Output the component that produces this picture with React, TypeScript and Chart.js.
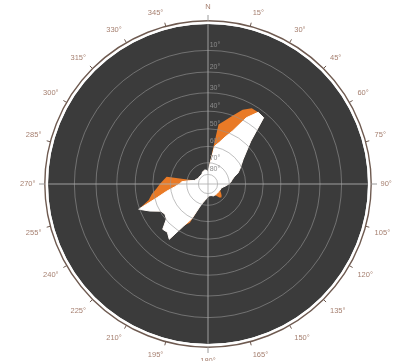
import React, { useEffect, useRef } from 'react';
import { Chart, registerables, RadialLinearScale } from 'chart.js';

// Azimuth categories (degrees, clockwise from north)
const AZIMUTHS = [
  0, 5, 10, 15, 20, 25, 30, 35, 40, 45, 50, 55, 60, 65, 70, 75, 80, 85,
  90, 95, 100, 105, 110, 115, 120, 125, 130, 135, 140, 145, 150, 155, 160, 165, 170, 175,
  180, 185, 190, 195, 200, 205, 210, 215, 220, 225, 230, 235, 240, 245, 250, 255, 260, 265,
  270, 275, 280, 285, 290, 295, 300, 305, 310, 315, 320, 325, 330, 335, 340, 345, 350, 355,
];

// Outer (orange) obstruction elevation per azimuth, degrees
const ORANGE_ELEV = [
  78, 70, 47, 44, 40, 35, 32, 32, 32.5, 47, 53, 57, 59.5, 61.5, 63.5, 66.5, 68, 69,
  70.5, 72.5, 74.5, 76, 76.5, 76.5, 76, 74.5, 73, 72, 73, 76, 77, 77, 77.5, 78, 78, 78,
  77.5, 76, 74, 72, 68, 57, 54, 43, 45.5, 45, 50.5, 51.5, 50.5, 45, 39.5, 46.5, 49, 52,
  54, 56, 57.5, 76.5, 77, 78, 78.5, 78.5, 78.5, 78.5, 78.5, 78.5, 78, 77, 76.5, 76, 76, 76.5,
];

// Inner (white) region elevation per azimuth, degrees
const WHITE_ELEV = [
  78, 72, 59.5, 57, 53, 48, 38, 32, 32.5, 47, 53, 57, 59.5, 61.5, 63.5, 66.5, 68, 69,
  70.5, 72.5, 74.5, 76, 76.5, 76.5, 77, 77, 77, 77, 77, 77, 77, 77, 77.5, 78, 78, 78,
  77.5, 76, 74, 72, 68, 59.5, 54, 43, 45.5, 45, 50.5, 51.5, 50.5, 45, 39.5, 51.5, 57.5, 62.5,
  65.5, 67, 72, 76.5, 77, 78, 78.5, 78.5, 78.5, 78.5, 78.5, 78.5, 78, 77, 76.5, 76, 76, 76.5,
];

// Elevation rings
const RING_ELEVATIONS = [0, 10, 20, 30, 40, 50, 60, 70, 80];

// Sky projection: elevation -> fraction of plot radius
const PROJ_ELEV = [0, 10, 20, 30, 40, 50, 60, 70, 80, 90];
const PROJ_FRAC = [1, 0.835, 0.7, 0.57, 0.455, 0.345, 0.235, 0.133, 0.06, 0];

const FONT = "'Liberation Sans', Arial, sans-serif";
const DISC_COLOR = '#3b3b3b';
const RING_COLOR = '#6e5a50';

function elevToFrac(e: number): number {
  if (e <= PROJ_ELEV[0]) return PROJ_FRAC[0];
  for (let i = 1; i < PROJ_ELEV.length; i++) {
    if (e <= PROJ_ELEV[i]) {
      const t = (e - PROJ_ELEV[i - 1]) / (PROJ_ELEV[i] - PROJ_ELEV[i - 1]);
      return PROJ_FRAC[i - 1] + t * (PROJ_FRAC[i] - PROJ_FRAC[i - 1]);
    }
  }
  return 0;
}

class SkyRadialScale extends RadialLinearScale {
  static id = 'skyRadial';
  getDistanceFromCenterForValue(value: any) {
    if (value === null || value === undefined || isNaN(value)) return NaN;
    return (this as any).drawingArea * elevToFrac(value);
  }
  setCenterPoint() {
    // keep the full drawing area; labels are laid out around it
  }
  drawLabels() {
    const ctx = (this as any).ctx as CanvasRenderingContext2D;
    ctx.save();
    ctx.translate(7, -5);
    // @ts-ignore
    super.drawLabels();
    ctx.restore();
  }
}

Chart.register(...registerables, SkyRadialScale as any);

const skyFrame = {
  id: 'skyFrame',
  beforeDraw(chart: any) {
    const s = chart.scales.r;
    const ctx = chart.ctx as CanvasRenderingContext2D;
    ctx.save();
    ctx.beginPath();
    ctx.arc(s.xCenter, s.yCenter, s.drawingArea, 0, Math.PI * 2);
    ctx.fillStyle = DISC_COLOR;
    ctx.fill();
    ctx.restore();
  },
  afterDraw(chart: any) {
    const s = chart.scales.r;
    const ctx = chart.ctx as CanvasRenderingContext2D;
    const R = s.drawingArea;
    ctx.save();
    ctx.beginPath();
    ctx.arc(s.xCenter, s.yCenter, R + 1.2, 0, Math.PI * 2);
    ctx.lineWidth = 2.4;
    ctx.strokeStyle = '#ffffff';
    ctx.stroke();
    ctx.beginPath();
    ctx.arc(s.xCenter, s.yCenter, R + 3.2, 0, Math.PI * 2);
    ctx.lineWidth = 1.4;
    ctx.strokeStyle = RING_COLOR;
    ctx.stroke();
    for (let i = 0; i < AZIMUTHS.length; i++) {
      const az = AZIMUTHS[i];
      if (az % 15 !== 0) continue;
      const cardinal = az % 90 === 0;
      const p1 = s.getPointPosition(i, R + 3);
      const p2 = s.getPointPosition(i, R + (cardinal ? 9 : 7));
      ctx.beginPath();
      ctx.moveTo(p1.x, p1.y);
      ctx.lineTo(p2.x, p2.y);
      ctx.lineWidth = 1;
      ctx.strokeStyle = cardinal ? '#9a9a9a' : RING_COLOR;
      ctx.stroke();
    }
    ctx.restore();
  },
};

export default function App() {
  const ref = useRef<HTMLCanvasElement | null>(null);
  useEffect(() => {
    if (!ref.current) return;
    const chart = new Chart(ref.current, {
      type: 'radar',
      data: {
        labels: AZIMUTHS,
        datasets: [
          {
            label: 'Open sky',
            data: WHITE_ELEV,
            backgroundColor: '#ffffff',
            borderColor: '#ffffff',
            borderWidth: 1,
            pointRadius: 0,
            fill: 'start',
            order: 0,
          },
          {
            label: 'Obstruction',
            data: ORANGE_ELEV,
            backgroundColor: '#e97a26',
            borderColor: 'rgba(0,0,0,0)',
            borderWidth: 0,
            pointRadius: 0,
            fill: 'start',
            order: 1,
          },
        ],
      },
      options: {
        animation: false,
        responsive: false,
        layout: { padding: { left: 18, right: 0, top: 20, bottom: 13 } },
        elements: { line: { tension: 0 } },
        plugins: { legend: { display: false }, tooltip: { enabled: false } },
        scales: {
          r: {
            type: 'skyRadial',
            min: 0,
            max: 90,
            reverse: true,
            afterBuildTicks: (scale: any) => {
              scale.ticks = RING_ELEVATIONS.map((v) => ({ value: v }));
            },
            grid: { circular: true, color: 'rgba(150,150,150,0.6)', lineWidth: 1, z: 1 },
            angleLines: {
              display: true,
              color: 'rgba(175,175,175,0.85)',
              lineWidth: (ctx: any) => (AZIMUTHS[ctx.index] % 90 === 0 ? 1 : 0),
            },
            border: { display: false },
            ticks: {
              z: 1,
              display: true,
              showLabelBackdrop: false,
              backdropPadding: 0,
              color: '#8c8c8c',
              font: { size: 7, family: FONT },
              callback: (v: any) => (v === 0 ? '' : v + '°'),
            },
            pointLabels: {
              display: true,
              padding: 9,
              color: '#a57f6f',
              font: { size: 7.5, family: FONT },
              callback: (label: any) => {
                const a = Number(label);
                if (a === 0) return 'N';
                return a % 15 === 0 ? a + '°' : '';
              },
            },
          } as any,
        },
      } as any,
      plugins: [skyFrame],
    });
    return () => chart.destroy();
  }, []);
  return (
    <div style={{ position: 'absolute', left: 0, top: 0, width: 398, height: 361 }}>
      <canvas ref={ref} width={398} height={361} style={{ display: 'block' }} />
    </div>
  );
}
